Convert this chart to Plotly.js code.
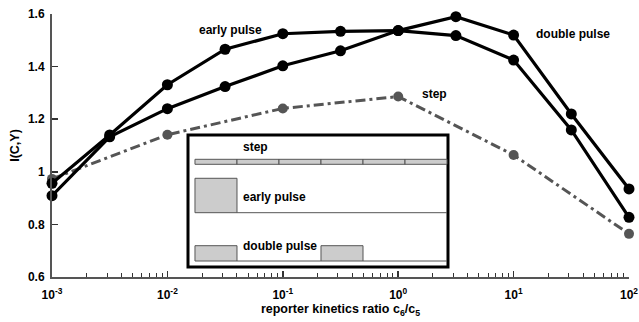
<!DOCTYPE html>
<html>
<head>
<meta charset="utf-8">
<script src="https://cdn.plot.ly/plotly-3.0.1.min.js"></script>
<style>html,body{margin:0;padding:0;background:#fff;}#chart{width:639px;height:322px;}</style>
</head>
<body>
<div id="chart"></div>
<script>
// ---- data ----
const ratioAll = [1e-3, 3.162e-3, 1e-2, 3.162e-2, 1e-1, 3.162e-1, 1, 3.162, 10, 31.62, 100];
const earlyPulse = [0.956, 1.140, 1.331, 1.466, 1.525, 1.534, 1.537, 1.518, 1.425, 1.159, 0.827];
const doublePulse = [0.909, 1.133, 1.240, 1.324, 1.403, 1.460, 1.537, 1.590, 1.520, 1.220, 0.935];
const ratioStep = [1e-3, 1e-2, 1e-1, 1, 10, 100];
const stepValues = [0.973, 1.141, 1.241, 1.286, 1.064, 0.764];
const xTickVals = [1e-3, 1e-2, 1e-1, 1, 10, 100];
const xTickText = ['10<sup>-3</sup>', '10<sup>-2</sup>', '10<sup>-1</sup>', '10<sup>0</sup>', '10<sup>1</sup>', '10<sup>2</sup>'];
const yTickVals = [0.6, 0.8, 1, 1.2, 1.4, 1.6];
const yTickText = ['0.6', '0.8', '1', '1.2', '1.4', '1.6'];

const FONT = 'Liberation Sans, Arial, Helvetica, sans-serif';
const minorVals = [];
for (let e = -3; e < 2; e++) for (let m = 2; m <= 9; m++) minorVals.push(m * Math.pow(10, e));

const traces = [
  {x: ratioStep, y: stepValues, mode: 'lines+markers', name: 'step', cliponaxis: false,
   line: {color: '#555555', width: 3, dash: '10px,4px,3px,4px'},
   marker: {color: '#555555', size: 10}},
  {x: ratioAll, y: doublePulse, mode: 'lines+markers', name: 'double pulse', cliponaxis: false,
   line: {color: '#000000', width: 3.2}, marker: {color: '#000000', size: 11}},
  {x: ratioAll, y: earlyPulse, mode: 'lines+markers', name: 'early pulse', cliponaxis: false,
   line: {color: '#000000', width: 3.2}, marker: {color: '#000000', size: 11}}
];

// inset geometry (paper coordinates)
const X0 = 0.2478, SEG = 0.0728;
const shapes = [];
shapes.push({type: 'rect', xref: 'paper', yref: 'paper', x0: 0.2357, x1: 0.6863, y0: 0.038, y1: 0.540,
  line: {color: '#000', width: 3}, fillcolor: '#fff', layer: 'above'});
for (let i = 0; i < 6; i++) {
  shapes.push({type: 'rect', xref: 'paper', yref: 'paper', x0: X0 + i * SEG, x1: X0 + (i + 1) * SEG,
    y0: 0.4285, y1: 0.4475, line: {color: '#555', width: 1}, fillcolor: '#cccccc', layer: 'above'});
}
shapes.push({type: 'rect', xref: 'paper', yref: 'paper', x0: X0, x1: X0 + SEG, y0: 0.2445, y1: 0.3753,
  line: {color: '#555', width: 1}, fillcolor: '#cccccc', layer: 'above'});
shapes.push({type: 'line', xref: 'paper', yref: 'paper', x0: X0 + SEG, x1: X0 + 6 * SEG, y0: 0.2445, y1: 0.2445,
  line: {color: '#555', width: 1}, layer: 'above'});
shapes.push({type: 'rect', xref: 'paper', yref: 'paper', x0: X0, x1: X0 + SEG, y0: 0.0608, y1: 0.119,
  line: {color: '#555', width: 1}, fillcolor: '#cccccc', layer: 'above'});
shapes.push({type: 'rect', xref: 'paper', yref: 'paper', x0: X0 + 3 * SEG, x1: X0 + 4 * SEG, y0: 0.0608, y1: 0.119,
  line: {color: '#555', width: 1}, fillcolor: '#cccccc', layer: 'above'});
shapes.push({type: 'line', xref: 'paper', yref: 'paper', x0: X0 + SEG, x1: X0 + 3 * SEG, y0: 0.0608, y1: 0.0608,
  line: {color: '#555', width: 1}, layer: 'above'});
shapes.push({type: 'line', xref: 'paper', yref: 'paper', x0: X0 + 4 * SEG, x1: X0 + 6 * SEG, y0: 0.0608, y1: 0.0608,
  line: {color: '#555', width: 1}, layer: 'above'});

function lab(text, x, y) {
  return {text: '<b>' + text + '</b>', xref: 'paper', yref: 'paper', x: x, y: y, xanchor: 'left', yanchor: 'middle',
    showarrow: false, font: {family: FONT, size: 12, color: '#000'}};
}
const annotations = [
  lab('early pulse', 0.2513, 0.939),
  lab('double pulse', 0.835, 0.924),
  lab('step', 0.638, 0.696),
  lab('step', 0.3276, 0.494),
  lab('early pulse', 0.3276, 0.304),
  lab('double pulse', 0.3276, 0.116)
];

const layout = {
  width: 639, height: 322,
  margin: {l: 52, r: 10, t: 14, b: 45},
  paper_bgcolor: '#fff', plot_bgcolor: '#fff',
  showlegend: false,
  font: {family: FONT, size: 12, color: '#000'},
  xaxis: {type: 'log', range: [-3, 2], tickmode: 'array', tickvals: xTickVals, ticktext: xTickText,
    ticks: 'inside', ticklen: 6, tickwidth: 1.5, tickcolor: '#333', ticklabelstandoff: 6,
    minor: {tickmode: 'array', tickvals: minorVals, ticks: 'inside', ticklen: 4, tickwidth: 1, tickcolor: '#333', showgrid: false},
    showline: true, linecolor: '#555', linewidth: 2, showgrid: false, zeroline: false,
    tickfont: {family: FONT, size: 12, color: '#000', weight: 'bold'},
    title: {text: '<b>reporter kinetics ratio c<sub>6</sub>/c<sub>5</sub></b>', standoff: 3,
      font: {family: FONT, size: 12.5, color: '#000'}}},
  yaxis: {range: [0.6, 1.6], tickmode: 'array', tickvals: yTickVals, ticktext: yTickText,
    ticks: 'inside', ticklen: 6, tickwidth: 1.5, tickcolor: '#333', ticklabelstandoff: 3,
    showline: true, linecolor: '#555', linewidth: 2, showgrid: false, zeroline: false,
    tickfont: {family: FONT, size: 12, color: '#000', weight: 'bold'},
    title: {text: '<b>I(C,Y)</b>', standoff: 6, font: {family: FONT, size: 12.5, color: '#000'}}},
  shapes: shapes,
  annotations: annotations
};

Plotly.newPlot('chart', traces, layout, {displayModeBar: false, staticPlot: true});
</script>
</body>
</html>
